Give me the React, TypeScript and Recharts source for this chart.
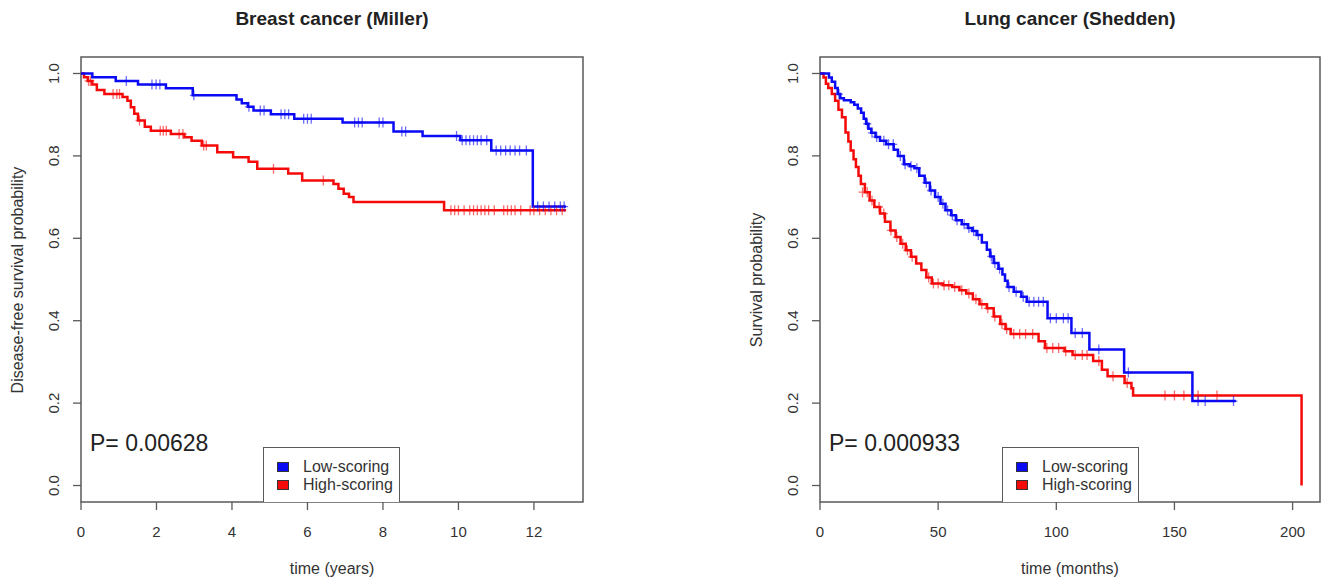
import React from 'react';
import {
  ComposedChart,
  Line,
  Scatter,
  XAxis,
  YAxis,
  ReferenceArea,
} from 'recharts';

// Kaplan-Meier curves: [time, survival]
const breastLowSteps = [
  [0, 1], [0.3, 0.991], [0.92, 0.982], [1.51, 0.973], [2.25, 0.964],
  [2.96, 0.947], [4.12, 0.937], [4.26, 0.928], [4.42, 0.919], [4.57, 0.91],
  [5.03, 0.901], [5.65, 0.89], [6.93, 0.881], [8.28, 0.859], [9.05, 0.848],
  [10.05, 0.838], [10.87, 0.813], [11.97, 0.677], [12.85, 0.677],
];
const breastHighSteps = [
  [0, 1], [0.08, 0.991], [0.18, 0.982], [0.3, 0.973], [0.42, 0.96],
  [0.62, 0.95], [1.1, 0.943], [1.23, 0.934], [1.32, 0.918], [1.41, 0.902],
  [1.51, 0.886], [1.69, 0.871], [1.85, 0.861], [2.38, 0.853], [2.74, 0.845],
  [2.93, 0.837], [3.2, 0.825], [3.61, 0.809], [4.03, 0.797], [4.44, 0.786],
  [4.67, 0.769], [5.49, 0.757], [5.86, 0.74], [6.69, 0.732], [6.82, 0.72],
  [6.96, 0.708], [7.1, 0.7], [7.22, 0.688], [9.62, 0.668], [12.85, 0.668],
];
const breastLowCensor = [
  [1.2, 0.982], [1.88, 0.973], [1.99, 0.973], [2.09, 0.973], [2.99, 0.947],
  [4.45, 0.919], [4.75, 0.91], [4.85, 0.91], [5.3, 0.901], [5.4, 0.901],
  [5.5, 0.901], [5.9, 0.89], [6.0, 0.89], [6.1, 0.89], [7.25, 0.881],
  [7.35, 0.881], [7.45, 0.881], [7.9, 0.881], [8.0, 0.881], [8.5, 0.859],
  [8.6, 0.859], [9.95, 0.848], [10.1, 0.838], [10.2, 0.838], [10.3, 0.838],
  [10.4, 0.838], [10.5, 0.838], [10.6, 0.838], [10.75, 0.838], [11.0, 0.813],
  [11.12, 0.813], [11.25, 0.813], [11.37, 0.813], [11.5, 0.813], [11.62, 0.813],
  [11.8, 0.813], [12.1, 0.677], [12.25, 0.677], [12.4, 0.677], [12.55, 0.677],
  [12.7, 0.677], [12.8, 0.677],
];
const breastHighCensor = [
  [0.2, 0.982], [0.25, 0.982], [0.85, 0.95], [0.95, 0.95], [1.02, 0.95],
  [1.55, 0.886], [2.1, 0.861], [2.18, 0.861], [2.26, 0.861], [2.6, 0.853],
  [2.7, 0.853], [3.25, 0.825], [3.32, 0.825], [5.1, 0.769], [6.42, 0.74],
  [9.8, 0.668], [9.9, 0.668], [10.0, 0.668], [10.15, 0.668], [10.3, 0.668],
  [10.4, 0.668], [10.5, 0.668], [10.6, 0.668], [10.7, 0.668], [10.8, 0.668],
  [10.95, 0.668], [11.2, 0.668], [11.3, 0.668], [11.4, 0.668], [11.5, 0.668],
  [11.65, 0.668], [11.9, 0.668], [12.0, 0.668], [12.15, 0.668], [12.3, 0.668],
  [12.45, 0.668], [12.6, 0.668], [12.75, 0.668],
];

const lungLowSteps = [
  [0, 1], [3.8, 0.99], [5, 0.98], [6.4, 0.965], [7.5, 0.95], [8.6, 0.94],
  [10.1, 0.935], [13, 0.93], [14.5, 0.924], [16, 0.915], [17.4, 0.905],
  [18.5, 0.89], [19.5, 0.878], [20.5, 0.866], [21.7, 0.856], [23.5, 0.846],
  [25.4, 0.837], [28, 0.828], [31.2, 0.815], [33, 0.8], [35.5, 0.78],
  [38, 0.775], [40, 0.77], [42, 0.752], [44.3, 0.735], [46.5, 0.716],
  [48.7, 0.7], [51, 0.684], [53.1, 0.668], [55.5, 0.656], [57.5, 0.644],
  [60, 0.634], [62.6, 0.625], [64.5, 0.618], [66.3, 0.608], [68.5, 0.59],
  [70.6, 0.572], [72, 0.556], [73.5, 0.54], [75.5, 0.526], [77.2, 0.512],
  [78.3, 0.497], [79.4, 0.482], [82, 0.47], [85.2, 0.458], [87.5, 0.446],
  [96.3, 0.406], [106.4, 0.37], [114, 0.33], [128.7, 0.274], [157.6, 0.205],
  [176, 0.205],
];
const lungHighSteps = [
  [0, 1], [1.5, 0.99], [2.5, 0.975], [3.5, 0.965], [5, 0.95], [6.4, 0.934],
  [7.8, 0.912], [9.3, 0.894], [10.8, 0.857], [12, 0.835], [13, 0.813],
  [14.2, 0.792], [15.2, 0.773], [16.3, 0.752], [17.3, 0.732], [19, 0.712],
  [21, 0.692], [23, 0.676], [25.4, 0.66], [27.5, 0.64], [29.8, 0.619],
  [32, 0.603], [34.1, 0.587], [36.3, 0.571], [38.5, 0.555], [40.7, 0.539],
  [42.9, 0.523], [45, 0.505], [47.3, 0.49], [52, 0.486], [56, 0.482],
  [59, 0.474], [61.9, 0.466], [64.7, 0.452], [67.5, 0.44], [70.6, 0.43],
  [73.5, 0.41], [76.3, 0.392], [78.5, 0.38], [80.7, 0.368], [92.5, 0.35],
  [95.2, 0.334], [103.5, 0.326], [106.9, 0.317], [115.6, 0.302], [119.3, 0.281],
  [121.7, 0.265], [128.9, 0.249], [131.8, 0.236], [132.5, 0.2185], [203.8, 0],
];
const lungLowCensor = [
  [8, 0.95], [20, 0.878], [22, 0.856], [24, 0.846], [27, 0.837], [29, 0.828],
  [31, 0.828], [34, 0.8], [36, 0.78], [38.5, 0.775], [41, 0.77], [45, 0.735],
  [47, 0.716], [50, 0.7], [52, 0.684], [54, 0.668], [56, 0.656], [58, 0.644],
  [61, 0.634], [63, 0.625], [65, 0.618], [67, 0.608], [72.5, 0.556], [74, 0.54],
  [76, 0.526], [80, 0.482], [83, 0.47], [86, 0.458], [88.5, 0.446], [90.5, 0.446],
  [92.5, 0.446], [94.5, 0.446], [97.5, 0.406], [100, 0.406], [103, 0.406],
  [105, 0.406], [108, 0.37], [111, 0.37], [118, 0.33], [130.5, 0.274],
  [160, 0.205], [163, 0.205], [175, 0.205],
];
const lungHighCensor = [
  [18, 0.712], [20, 0.712], [22, 0.692], [25, 0.676], [27, 0.66], [30, 0.619],
  [32.5, 0.603], [35, 0.587], [37, 0.571], [39, 0.555], [46, 0.505], [48, 0.49],
  [50, 0.49], [52.5, 0.486], [54.5, 0.486], [57, 0.482], [60, 0.474], [63, 0.466],
  [66, 0.452], [68.5, 0.44], [71, 0.43], [74, 0.41], [77, 0.392], [79, 0.38],
  [82, 0.368], [84.5, 0.368], [87, 0.368], [90, 0.368], [96, 0.334], [98.5, 0.334],
  [101, 0.334], [104, 0.326], [108, 0.317], [111, 0.317], [113, 0.317],
  [118, 0.302], [124, 0.265], [130, 0.249], [146, 0.2185], [150, 0.2185],
  [154, 0.2185], [160, 0.2185], [168, 0.2185],
];

const breastTicks = [0, 2, 4, 6, 8, 10, 12];
const lungTicks = [0, 50, 100, 150, 200];
const survTicks = [0, 0.2, 0.4, 0.6, 0.8, 1.0];

const BLUE = '#0a0af5';
const RED = '#f50a0a';
const FONT = '"Liberation Sans", Arial, Helvetica, sans-serif';
const AXIS = '#5a5a5a';

const toRows = (pts: number[][]) => pts.map(([t, s]) => ({ t, s }));

const YTick = (props: any) => {
  const { x, y, payload } = props;
  return (
    <text
      x={x}
      y={y}
      transform={`rotate(-90 ${x} ${y})`}
      textAnchor="middle"
      dominantBaseline="central"
      fontSize={15}
      fontFamily={FONT}
      fill="#333"
    >
      {Number(payload.value).toFixed(1)}
    </text>
  );
};

const plus = (color: string) => (props: any) => {
  const { cx, cy } = props;
  return (
    <path
      d={`M${cx - 4},${cy}h8M${cx},${cy - 5}v10`}
      stroke={color}
      strokeWidth={1.3}
      strokeOpacity={0.6}
      fill="none"
    />
  );
};

interface PanelProps {
  left: number;
  width: number;
  plotLeft: number;
  plotRight: number;
  title: string;
  xLabel: string;
  yLabel: string;
  xMax: number;
  xTicks: number[];
  low: number[][];
  high: number[][];
  lowCensor: number[][];
  highCensor: number[][];
  pText: string;
}

function Panel(p: PanelProps) {
  const center = (p.plotLeft + p.plotRight) / 2;
  const legendLeft = p.plotLeft + 182;
  return (
    <div style={{ position: 'absolute', left: p.left, top: 0, width: p.width, height: 578, fontFamily: FONT }}>
      <ComposedChart
        width={p.width}
        height={578}
        margin={{ top: 57, right: p.width - p.plotRight, bottom: 36, left: 0 }}
      >
        <XAxis
          type="number"
          dataKey="t"
          domain={[0, p.xMax]}
          ticks={p.xTicks}
          allowDataOverflow
          axisLine={false}
          tickSize={8}
          tickMargin={16}
          height={40}
          tickLine={{ stroke: AXIS, strokeWidth: 1.3 }}
          tick={{ fontSize: 15, fill: '#333', fontFamily: FONT }}
        />
        <YAxis
          type="number"
          dataKey="s"
          domain={[-0.04, 1.04]}
          ticks={survTicks}
          allowDataOverflow
          axisLine={false}
          width={p.plotLeft}
          tickSize={8}
          tickMargin={19}
          tickLine={{ stroke: AXIS, strokeWidth: 1.3 }}
          tick={<YTick />}
        />
        <ReferenceArea
          x1={0}
          x2={p.xMax}
          y1={-0.04}
          y2={1.04}
          fill="none"
          stroke={AXIS}
          strokeWidth={1.5}
          ifOverflow="visible"
        />
        <Line
          data={toRows(p.high)}
          dataKey="s"
          type="stepAfter"
          stroke={RED}
          strokeWidth={2.5}
          dot={false}
          isAnimationActive={false}
        />
        <Line
          data={toRows(p.low)}
          dataKey="s"
          type="stepAfter"
          stroke={BLUE}
          strokeWidth={2.5}
          dot={false}
          isAnimationActive={false}
        />
        <Scatter data={toRows(p.highCensor)} dataKey="s" shape={plus(RED)} isAnimationActive={false} />
        <Scatter data={toRows(p.lowCensor)} dataKey="s" shape={plus(BLUE)} isAnimationActive={false} />
      </ComposedChart>

      {/* title and axis titles */}
      <div style={{ position: 'absolute', left: center - 200, width: 400, top: 8, textAlign: 'center', fontSize: 19, fontWeight: 'bold', color: '#222' }}>
        {p.title}
      </div>
      <div style={{ position: 'absolute', left: center - 150, width: 300, top: 560, textAlign: 'center', fontSize: 16, color: '#333' }}>
        {p.xLabel}
      </div>
      <div
        style={{
          position: 'absolute',
          left: p.plotLeft - 63 - 200,
          top: 280 - 10,
          width: 400,
          height: 20,
          lineHeight: '20px',
          textAlign: 'center',
          fontSize: 16,
          color: '#333',
          transform: 'rotate(-90deg)',
        }}
      >
        {p.yLabel}
      </div>
      <div style={{ position: 'absolute', left: p.plotLeft + 9, top: 428, fontSize: 23, lineHeight: '30px', color: '#222' }}>
        {p.pText}
      </div>

      {/* legend */}
      <div
        style={{
          position: 'absolute',
          left: legendLeft,
          top: 447,
          width: 135,
          height: 54,
          background: '#fff',
          border: `1.5px solid ${AXIS}`,
          borderBottom: 'none',
          fontSize: 16,
          color: '#333',
        }}
      >
        {[
          { name: 'Low-scoring', color: BLUE, y: 19 },
          { name: 'High-scoring', color: RED, y: 37 },
        ].map((e) => (
          <div key={e.name} style={{ position: 'absolute', left: 0, top: e.y - 10, height: 20, lineHeight: '20px', whiteSpace: 'nowrap' }}>
            <span style={{ position: 'absolute', left: 13, top: 5, width: 12, height: 10, background: e.color, border: '1px solid #333', boxSizing: 'border-box' }} />
            <span style={{ position: 'absolute', left: 39 }}>{e.name}</span>
          </div>
        ))}
      </div>
    </div>
  );
}

export default function App() {
  return (
    <div style={{ position: 'absolute', left: 0, top: 0, width: 1323, height: 578, background: '#fff' }}>
      <Panel
        left={0}
        width={620}
        plotLeft={81}
        plotRight={583}
        title="Breast cancer (Miller)"
        xLabel="time (years)"
        yLabel="Disease-free survival probability"
        xMax={13.3}
        xTicks={breastTicks}
        low={breastLowSteps}
        high={breastHighSteps}
        lowCensor={breastLowCensor}
        highCensor={breastHighCensor}
        pText="P= 0.00628"
      />
      <Panel
        left={700}
        width={623}
        plotLeft={120}
        plotRight={620}
        title="Lung cancer (Shedden)"
        xLabel="time (months)"
        yLabel="Survival probability"
        xMax={211.6}
        xTicks={lungTicks}
        low={lungLowSteps}
        high={lungHighSteps}
        lowCensor={lungLowCensor}
        highCensor={lungHighCensor}
        pText="P= 0.000933"
      />
    </div>
  );
}
